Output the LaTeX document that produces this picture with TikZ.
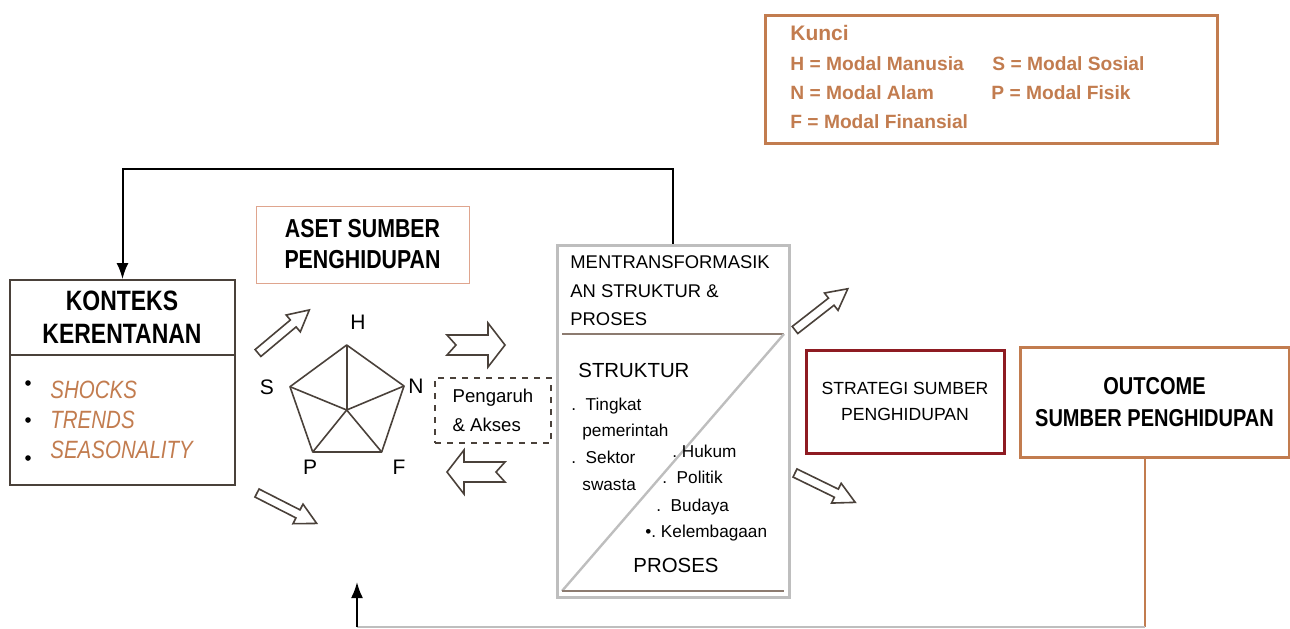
\documentclass[tikz,border=0pt]{standalone}
\usepackage{fontspec}
\setmainfont{Liberation Sans}
\newfontfamily\narrowfont[FakeStretch=0.82]{Liberation Sans}
\usepackage{tikz}
\usetikzlibrary{arrows, arrows.meta, positioning, calc}
\definecolor{livbrown}{HTML}{C27C4F}
\definecolor{livred}{HTML}{8E1B22}
\definecolor{livgray}{HTML}{BEBEBE}
\definecolor{livdark}{HTML}{4A413A}
\definecolor{livpink}{HTML}{DFA58E}
\definecolor{livline}{HTML}{8C7B70}
\tikzset{
  box/.style={rectangle,draw=livdark,line width=0.9pt,inner sep=0pt},
  keybox/.style={box,draw=livbrown,line width=1.5pt},
  keytext/.style={anchor=base west,inner sep=0pt,text=livbrown,font=\bfseries\fontsize{9.6}{11}\selectfont},
  title/.style={align=center,inner sep=0pt,font=\narrowfont\bfseries\fontsize{14}{16.5}\selectfont},
  hazard/.style={anchor=base west,inner sep=0pt,text=livbrown,font=\narrowfont\itshape\fontsize{12.5}{15}\selectfont},
  corner/.style={inner sep=0pt,font=\fontsize{10.5}{12}\selectfont},
  transtext/.style={anchor=base west,inner sep=0pt,font=\fontsize{9.2}{11}\selectfont},
  listtext/.style={anchor=base west,inner sep=0pt,font=\fontsize{8.6}{10}\selectfont},
  bigtext/.style={inner sep=0pt,font=\fontsize{10.2}{12}\selectfont},
  pent/.style={livdark,line width=0.8pt,line join=round},
  feedback/.style={line width=1pt,-{Latex[length=8pt,width=6pt]}},
  hollow/.style={draw=livdark,line width=0.8pt,fill=white,line join=miter},
  dashedbox/.style={rectangle,draw=livdark,dashed,line width=0.8pt,align=left,
    minimum width=58pt,minimum height=32.5pt,inner sep=0pt,font=\fontsize{9.3}{14.5}\selectfont},
  pics/slimarrow/.style={code={\draw[hollow] (0,-4.5) -- (46,-4.5) -- (46,-11) -- (67,0) -- (46,11) -- (46,4.5) -- (0,4.5) -- cycle;}},
  pics/notcharrow/.style={code={\draw[hollow] (0,-10) -- (41,-10) -- (41,-22) -- (58,0) -- (41,22) -- (41,10) -- (0,10) -- (9,0) -- cycle;}},
}

\begin{document}
\begin{tikzpicture}[x=0.5pt,y=-0.5pt]
  \useasboundingbox (0,0) rectangle (1290,628);
  % key
  \node[keybox,minimum width=226pt,minimum height=64pt] (kunci) at (991,79) {};
  \node[keytext,font=\bfseries\fontsize{10.5}{12}\selectfont] (kuncititle) at (790,40) {Kunci};
  \node[keytext] (keyH) at (790,70) {H = Modal Manusia};
  \node[keytext] (keyS) at (992,70) {S = Modal Sosial};
  \node[keytext] (keyN) at (790,99) {N = Modal Alam};
  \node[keytext] (keyP) at (991,99) {P = Modal Fisik};
  \node[keytext] (keyF) at (790,128) {F = Modal Finansial};

  % vulnerability context
  \node[box,minimum width=112.5pt,minimum height=102.5pt] (konteks) at (122.5,382.5) {};
  \draw[livdark,line width=0.8pt] (konteks.west |- 0,355) -- (konteks.east |- 0,355);
  \node[title] (konteksname) at (122,317.5) {KONTEKS\\KERENTANAN};
  \foreach \by in {383,420,458}
    \fill (28,\by) circle (1.4pt);
  \foreach \y/\txt in {398/SHOCKS,428/TRENDS,458/SEASONALITY}
    \node[hazard] (haz\y) at (50,\y) {\txt};

  % livelihood assets
  \node[box,draw=livpink,line width=0.5pt,minimum width=106.5pt,minimum height=38.5pt,
        title,font=\narrowfont\bfseries\fontsize{13}{15.5}\selectfont] (aset) at (362.5,244.5) {ASET SUMBER\\PENGHIDUPAN};
  \coordinate (H) at (346.7,345);
  \coordinate (N) at (404,386);
  \coordinate (F) at (381.7,452);
  \coordinate (P) at (312.7,452);
  \coordinate (S) at (290,386.7);
  \coordinate (pc) at (346.7,410);
  \draw[pent] (H) -- (N) -- (F) -- (P) -- (S) -- cycle;
  \foreach \v in {H,N,F,P,S}
    \draw[pent] (pc) -- (\v);
  \node[corner] (labH) at (358,322.5) {H};
  \node[corner] (labS) at (267,387) {S};
  \node[corner] (labN) at (416,386) {N};
  \node[corner] (labP) at (310,467) {P};
  \node[corner] (labF) at (399,467) {F};

  % block arrows
  \pic[rotate=40] (upS) at (258,353) {slimarrow};
  \pic[rotate=-27] (downP) at (257,493) {slimarrow};
  \pic (toT) at (447,345) {notcharrow};
  \pic[rotate=180] (fromT) at (505,472) {notcharrow};
  \pic[rotate=38] (upR) at (795,330) {slimarrow};
  \pic[rotate=-26] (downR) at (795,473) {slimarrow};

  \node[dashedbox] (akses) at (493,410.5) {Pengaruh\\\& Akses};

  % transforming structures and processes
  \node[box,draw=livgray,line width=1.5pt,minimum width=116pt,minimum height=176pt] (trans) at (673,421) {};
  \coordinate (tl) at (562,334);
  \coordinate (tr) at (784,334);
  \coordinate (bl) at (562,591);
  \coordinate (br) at (784,591);
  \draw[livline,line width=0.7pt] (tl) -- (tr);
  \draw[livgray,line width=1.2pt] (bl) -- (tr);
  \draw[livline,line width=0.9pt] (bl) -- (br);
  \foreach \y/\txt [count=\i] in {268/MENTRANSFORMASIK,297/AN STRUKTUR \&,325/PROSES}
    \node[transtext] (hdr\i) at (570,\y) {\txt};
  \node[bigtext,anchor=base west] (struktur) at (578,377) {STRUKTUR};
  \node[listtext] (lvl) at (571,410) {.\ \ Tingkat};
  \node[listtext] (lvl2) at (582,436) {pemerintah};
  \node[listtext] (priv) at (571,463) {.\ \ Sektor};
  \node[listtext] (priv2) at (582,490) {swasta};
  \node[listtext] (law) at (672,457) {.\ Hukum};
  \node[listtext] (pol) at (662,483) {.\ \ Politik};
  \node[listtext] (cult) at (656,511) {.\ \ Budaya};
  \node[listtext] (inst) at (645,537) {•.\ Kelembagaan};
  \node[bigtext,anchor=base] (proses) at (676,572) {PROSES};

  % strategies and outcomes
  \node[box,draw=livred,line width=1.5pt,minimum width=99pt,minimum height=51.5pt,align=center,
        font=\fontsize{8.8}{13}\selectfont] (strategi) at (905,401.5) {STRATEGI SUMBER\\PENGHIDUPAN};
  \node[box,draw=livbrown,line width=1.5pt,minimum width=134.5pt,minimum height=55pt,
        title,font=\narrowfont\bfseries\fontsize{12.2}{16}\selectfont] (outcome) at (1154.5,402) {OUTCOME\\SUMBER PENGHIDUPAN};

  % feedback
  \draw[feedback] (trans.north) -- ++(0,-75) -| (konteks.north);
  \coordinate (corner) at (1145,627);
  \coordinate (asetin) at (357,582);
  \draw[livbrown,line width=1pt] (outcome.south -| corner) -- (corner);
  \draw[livgray,line width=0.6pt] (corner) -- (asetin |- corner);
  \draw[feedback] (asetin |- corner) -- (asetin);
\end{tikzpicture}
\end{document}
